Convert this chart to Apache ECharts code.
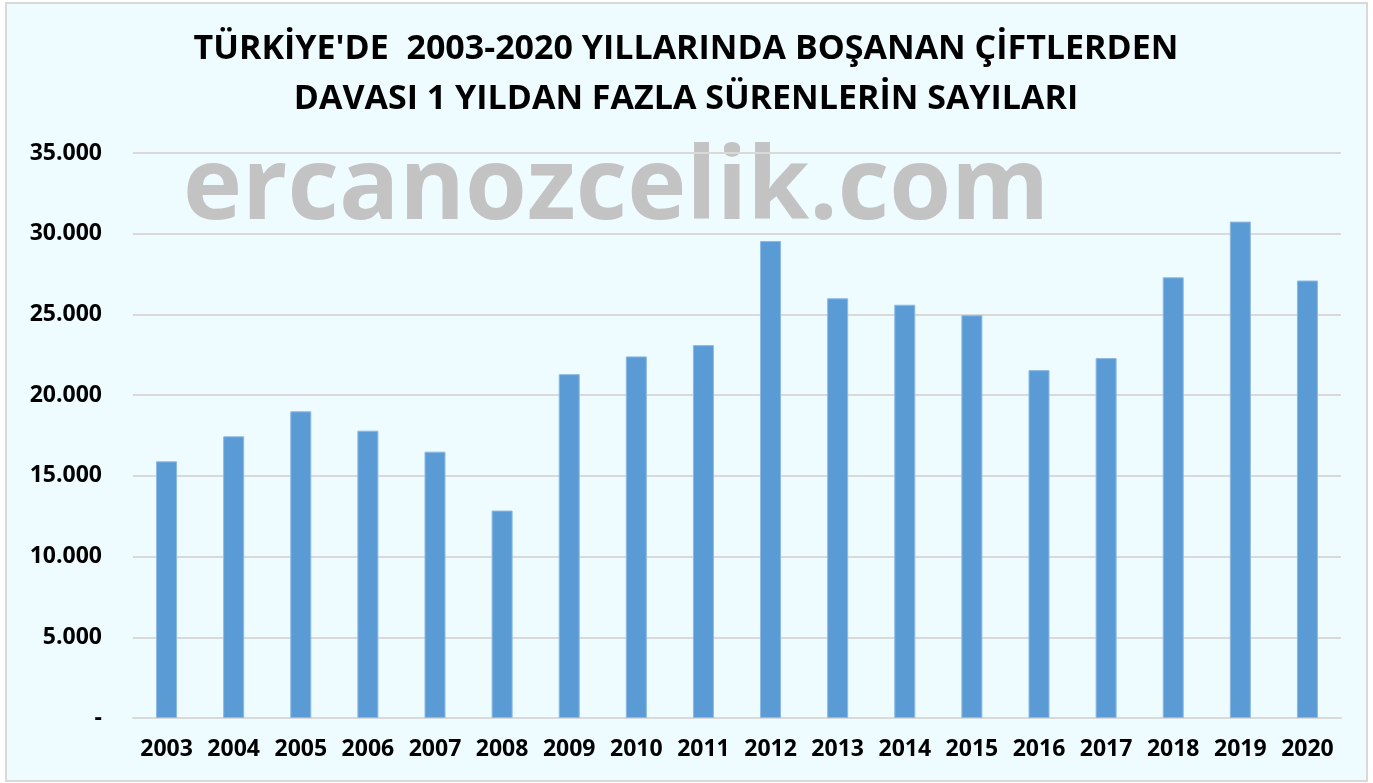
<!DOCTYPE html>
<html><head><meta charset="utf-8">
<script src="https://cdn.jsdelivr.net/npm/echarts@6/dist/echarts.min.js"></script>
<style>html,body{margin:0;padding:0;background:#fff}#c{width:1373px;height:783px}</style>
</head><body><div id="c"></div>
<script>
const years = ['2003','2004','2005','2006','2007','2008','2009','2010','2011','2012','2013','2014','2015','2016','2017','2018','2019','2020'];
const values = [15900,17450,19000,17800,16500,12850,21300,22400,23100,29550,26000,25600,24950,21550,22300,27300,30750,27100];
const titleLines = ["TÜRKİYE'DE  2003-2020 YILLARINDA BOŞANAN ÇİFTLERDEN", "DAVASI 1 YILDAN FAZLA SÜRENLERİN SAYILARI"];
const watermark = 'ercanozcelik.com';

const chart = echarts.init(document.getElementById('c'));
const font = '"Open Sans", "DejaVu Sans", sans-serif';
chart.setOption({
  animation: false,
  backgroundColor: '#ffffff',
  graphic: [
    {type:'rect', z:-10, shape:{x:6,y:3,width:1361,height:778}, style:{fill:'#EEFBFF', stroke:'#D9D9D9', lineWidth:2}},
    {type:'text', z:-5, x:183, y:141, style:{text:watermark, fill:'#C3C3C3', font:'bold 100px "Open Sans", sans-serif', verticalAlign:'top'}},
    {type:'text', x:686, y:49, style:{text:titleLines[0], fill:'#000', font:'bold 34px "Open Sans", sans-serif', align:'center', verticalAlign:'middle'}},
    {type:'text', x:686, y:99, style:{text:titleLines[1], fill:'#000', font:'bold 34px "Open Sans", sans-serif', align:'center', verticalAlign:'middle'}}
  ],
  grid: {left:133, right:32, top:153, bottom:65},
  xAxis: {
    type:'category', data: years,
    axisLine:{lineStyle:{color:'#D9D9D9', width:2}},
    axisTick:{show:false},
    axisLabel:{interval:0, color:'#000', fontWeight:'bold', fontSize:23, fontFamily:font, margin:20}
  },
  yAxis: {
    type:'value', min:0, max:35000, interval:5000,
    axisLine:{show:false}, axisTick:{show:false},
    splitLine:{lineStyle:{color:'#D9D9D9', width:2}},
    axisLabel:{color:'#000', fontWeight:'bold', fontSize:23, fontFamily:font, margin:31,
      formatter: v => v === 0 ? '-' : v.toLocaleString('de-DE')}
  },
  series: [{
    type:'bar', data: values, barWidth:21,
    itemStyle:{color:'#5B9BD5', borderColor:'#8DB9E3', borderWidth:1}
  }]
});
</script></body></html>
